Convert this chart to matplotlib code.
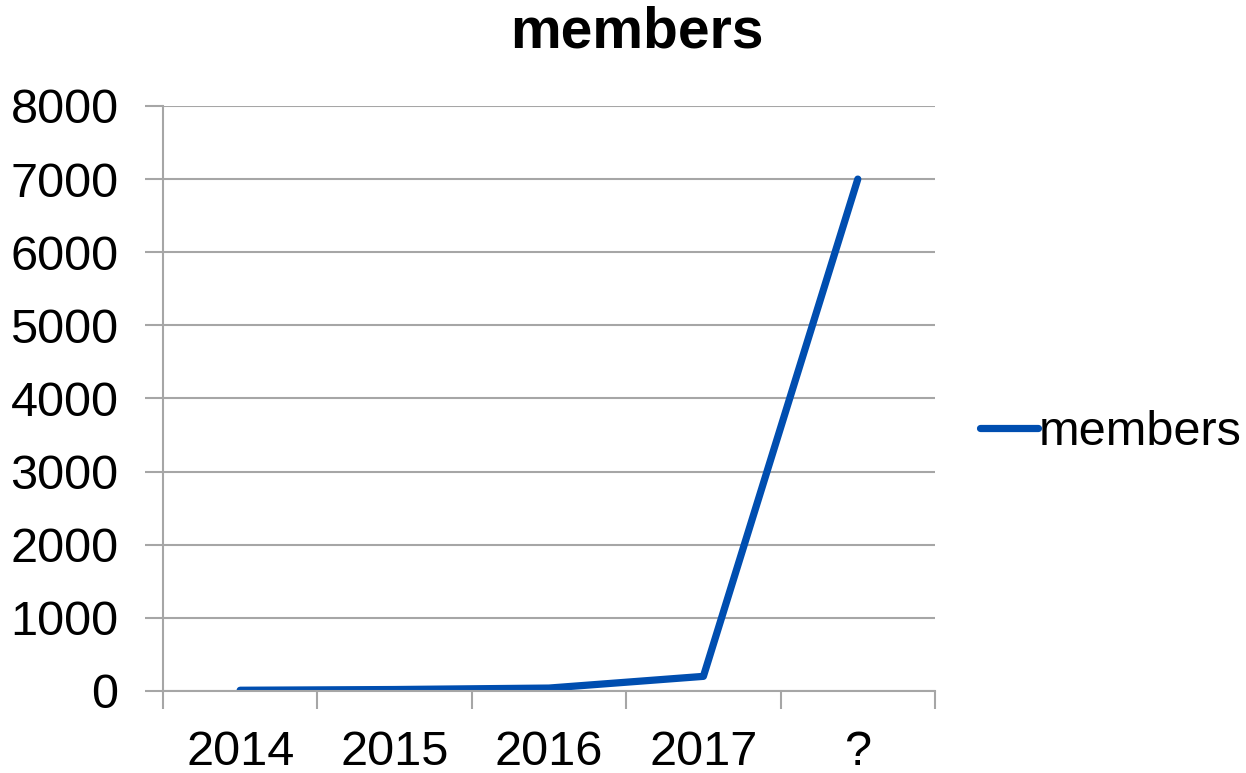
import matplotlib.pyplot as plt
from matplotlib.ticker import FixedLocator

plt.rcParams['font.family'] = ['Liberation Sans', 'DejaVu Sans']

years = ["2014", "2015", "2016", "2017", "?"]
members = [10, 20, 40, 200, 7000]

grey = '#a6a6a6'
blue = '#004eb0'

fig = plt.figure(figsize=(12.46, 7.73), dpi=100)
ax = fig.add_axes([0.1308, 0.1061, 0.6196, 0.7568])

xs = list(range(len(years)))
line, = ax.plot(xs, members, color=blue, lw=5.2, solid_capstyle='round',
                solid_joinstyle='round', label="members")

ax.set_xlim(-0.5, len(years) - 0.5)
ax.set_ylim(0, 8000)
ax.set_yticks(range(0, 8001, 1000))
ax.set_xticks(xs)
ax.set_xticklabels(years)
ax.xaxis.set_minor_locator(FixedLocator([i - 0.5 for i in range(len(years) + 1)]))

ax.grid(axis='y', color=grey, lw=1.5)
ax.set_axisbelow(True)
for s in ['top', 'right']:
    ax.spines[s].set_visible(False)
for s in ['left', 'bottom']:
    ax.spines[s].set_color(grey)
    ax.spines[s].set_linewidth(1.5)

ax.tick_params(axis='y', labelsize=35, length=13, width=1.5, color=grey, pad=19)
ax.tick_params(axis='x', which='major', labelsize=35, length=0, pad=28)
ax.tick_params(axis='x', which='minor', length=13, width=1.5, color=grey)

# chart title sits centred on the whole figure, not the plot area
fig.text(0.511, 0.938, "members", fontsize=41, fontweight='bold',
         ha='center', va='baseline')

fig.legend(handles=[line], loc='center left', bbox_to_anchor=(0.7865, 0.441),
           frameon=False, fontsize=35, handlelength=1.2, handletextpad=0.0,
           borderpad=0, borderaxespad=0)

fig.savefig("out.png", dpi=100)
